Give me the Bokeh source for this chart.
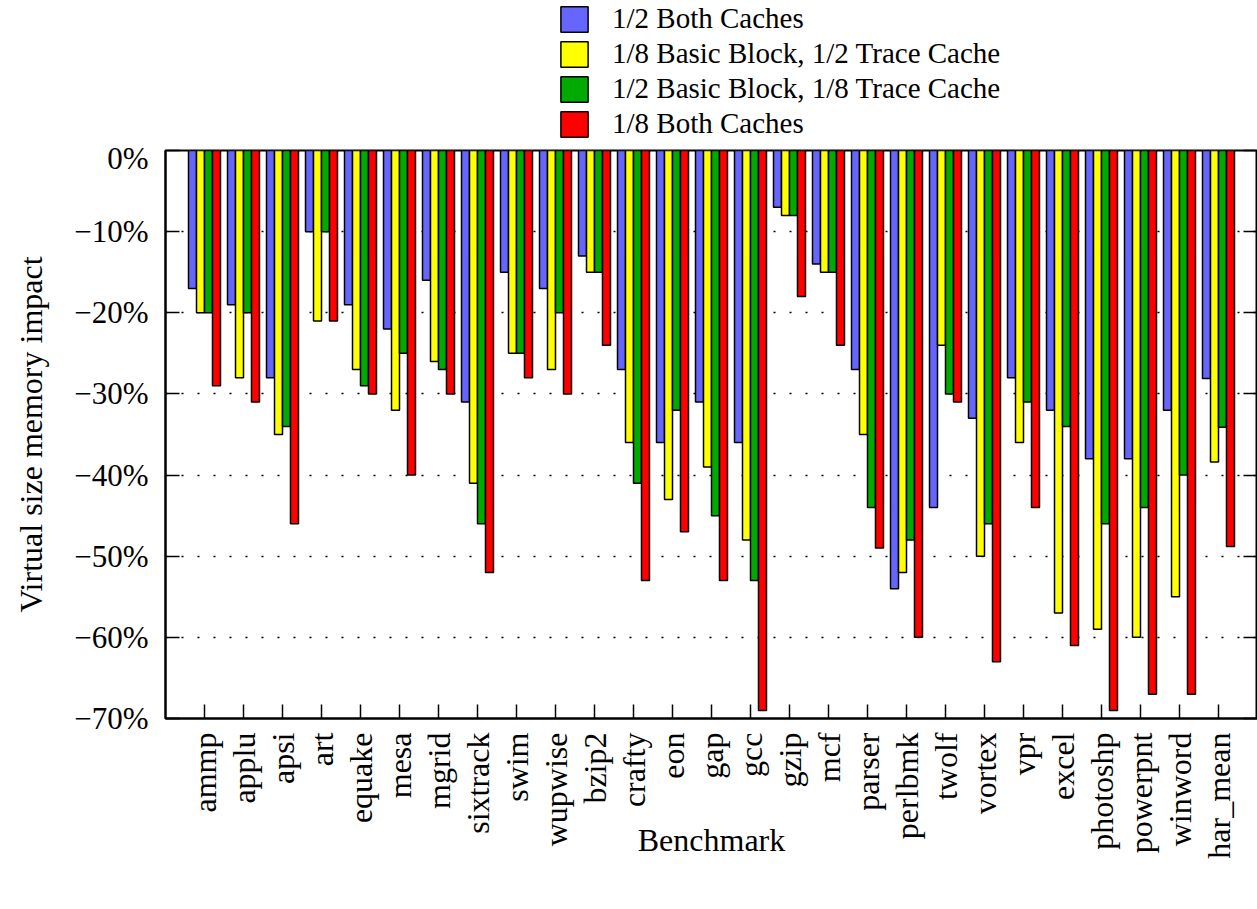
import math
from bokeh.plotting import figure
from bokeh.layouts import column
from bokeh.models import ColumnDataSource, FixedTicker, LinearAxis, Legend, LegendItem, Range1d
from bokeh.transform import dodge
from bokeh.embed import file_html
from bokeh.resources import INLINE

benchmarks = ["ammp", "applu", "apsi", "art", "equake", "mesa", "mgrid", "sixtrack",
              "swim", "wupwise", "bzip2", "crafty", "eon", "gap", "gcc", "gzip", "mcf",
              "parser", "perlbmk", "twolf", "vortex", "vpr", "excel", "photoshp",
              "powerpnt", "winword", "har_mean"]

series_names = ["1/2 Both Caches", "1/8 Basic Block, 1/2 Trace Cache",
                "1/2 Basic Block, 1/8 Trace Cache", "1/8 Both Caches"]

both_half = [-17, -19, -28, -10, -19, -22, -16, -31, -15, -17, -13, -27, -36, -31, -36,
             -7, -14, -27, -54, -44, -33, -28, -32, -38, -38, -32, -28.1]
bb8_tc2 = [-20, -28, -35, -21, -27, -32, -26, -41, -25, -27, -15, -36, -43, -39, -48,
           -8, -15, -35, -52, -24, -50, -36, -57, -59, -60, -55, -38.4]
bb2_tc8 = [-20, -20, -34, -10, -29, -25, -27, -46, -25, -20, -15, -41, -32, -45, -53,
           -8, -15, -44, -48, -30, -46, -31, -34, -46, -44, -40, -34.1]
both_eighth = [-29, -31, -46, -21, -30, -40, -30, -52, -28, -30, -24, -53, -47, -53, -69,
               -18, -24, -49, -60, -31, -63, -44, -61, -69, -67, -67, -48.8]

y_ticks = [-70, -60, -50, -40, -30, -20, -10, 0]
y_tick_labels = ["\u221270%", "\u221260%", "\u221250%", "\u221240%", "\u221230%",
                 "\u221220%", "\u221210%", "0%"]

colors = ["#6666FF", "#FFFF00", "#00AA00", "#FF0000"]
cols = ["s0", "s1", "s2", "s3"]

FONT = "Liberation Serif"
W = 1257

xpos = list(range(1, len(benchmarks) + 1))
source = ColumnDataSource(dict(x=xpos, name=benchmarks, s0=both_half, s1=bb8_tc2,
                               s2=bb2_tc8, s3=both_eighth))

# ---------------- main chart ----------------
p = figure(width=W, height=746, output_backend="svg", toolbar_location=None,
           x_range=Range1d(0, len(benchmarks) + 1), y_range=Range1d(-70, 0),
           min_border_left=165, min_border_right=0, min_border_bottom=168,
           min_border_top=10)

p.outline_line_color = "black"
p.outline_line_width = 2
p.background_fill_color = "white"
p.border_fill_color = "white"

p.xgrid.grid_line_color = None
p.ygrid.ticker = FixedTicker(ticks=y_ticks)
p.ygrid.grid_line_color = "black"
p.ygrid.grid_line_dash = "2 14"
p.ygrid.grid_line_width = 1.5

bw = 0.205
offsets = [-1.5 * bw, -0.5 * bw, 0.5 * bw, 1.5 * bw]
for i, (col, c) in enumerate(zip(cols, colors)):
    p.vbar(x=dodge("x", offsets[i], range=p.x_range), top=0, bottom=col, width=bw,
           source=source, fill_color=c, line_color="black", line_width=1.5)

xa = p.xaxis[0]
xa.ticker = FixedTicker(ticks=xpos)
xa.major_label_overrides = {x: n for x, n in zip(xpos, benchmarks)}
xa.major_label_orientation = math.pi / 2
xa.major_tick_in = 14
xa.major_tick_out = 0
xa.minor_tick_line_color = None
xa.major_tick_line_color = "black"
xa.major_tick_line_width = 1.5
xa.axis_line_color = "black"
xa.axis_line_width = 2
xa.major_label_text_font = FONT
xa.major_label_text_font_size = "32px"
xa.major_label_text_color = "black"
xa.major_label_standoff = 14
xa.axis_label = "Benchmark"
xa.axis_label_text_font = FONT
xa.axis_label_text_font_size = "32px"
xa.axis_label_text_font_style = "normal"
xa.axis_label_text_color = "black"
xa.axis_label_standoff = -40

ya = p.yaxis[0]
ya.ticker = FixedTicker(ticks=y_ticks)
ya.major_label_overrides = {t: l for t, l in zip(y_ticks, y_tick_labels)}
ya.major_tick_in = 14
ya.major_tick_out = 0
ya.minor_tick_line_color = None
ya.major_tick_line_color = "black"
ya.major_tick_line_width = 1.5
ya.axis_line_color = "black"
ya.axis_line_width = 2
ya.major_label_text_font = FONT
ya.major_label_text_font_size = "31px"
ya.major_label_text_color = "black"
ya.major_label_standoff = 17
ya.axis_label = "Virtual size memory impact"
ya.axis_label_text_font = FONT
ya.axis_label_text_font_size = "32px"
ya.axis_label_text_font_style = "normal"
ya.axis_label_text_color = "black"
ya.axis_label_standoff = 22

ra = LinearAxis(ticker=FixedTicker(ticks=y_ticks),
                major_label_overrides={t: "" for t in y_ticks},
                major_tick_in=14, major_tick_out=0, minor_tick_line_color=None,
                major_tick_line_width=1.5, axis_line_color="black", axis_line_width=2,
                major_label_standoff=0, major_label_text_font_size="1px")
p.add_layout(ra, "right")

# ---------------- legend strip above the chart ----------------
lg = figure(width=W, height=140, output_backend="svg", toolbar_location=None,
            x_range=Range1d(0, 1), y_range=Range1d(0, 1),
            min_border_left=0, min_border_right=0, min_border_top=0, min_border_bottom=0)
lg.axis.visible = False
lg.grid.grid_line_color = None
lg.outline_line_color = None
lg.background_fill_color = "white"
lg.border_fill_color = "white"

items = []
for i, (col, c, n) in enumerate(zip(cols, colors, series_names)):
    r = lg.vbar(x="x", top=0, bottom=col, width=bw, source=source, fill_color=c,
                line_color="black", line_width=1.5, visible=False)
    items.append(LegendItem(label=n, renderers=[r]))

legend = Legend(items=items, location=(392, 0), orientation="vertical",
                label_text_font=FONT, label_text_font_size="29px", label_text_color="black",
                glyph_width=34, glyph_height=32, label_standoff=21, spacing=2,
                padding=0, margin=0, border_line_alpha=0, background_fill_alpha=0)
lg.add_layout(legend, "center")

layout = column(lg, p, spacing=0)
open("out.html", "w").write(file_html(layout, INLINE))
